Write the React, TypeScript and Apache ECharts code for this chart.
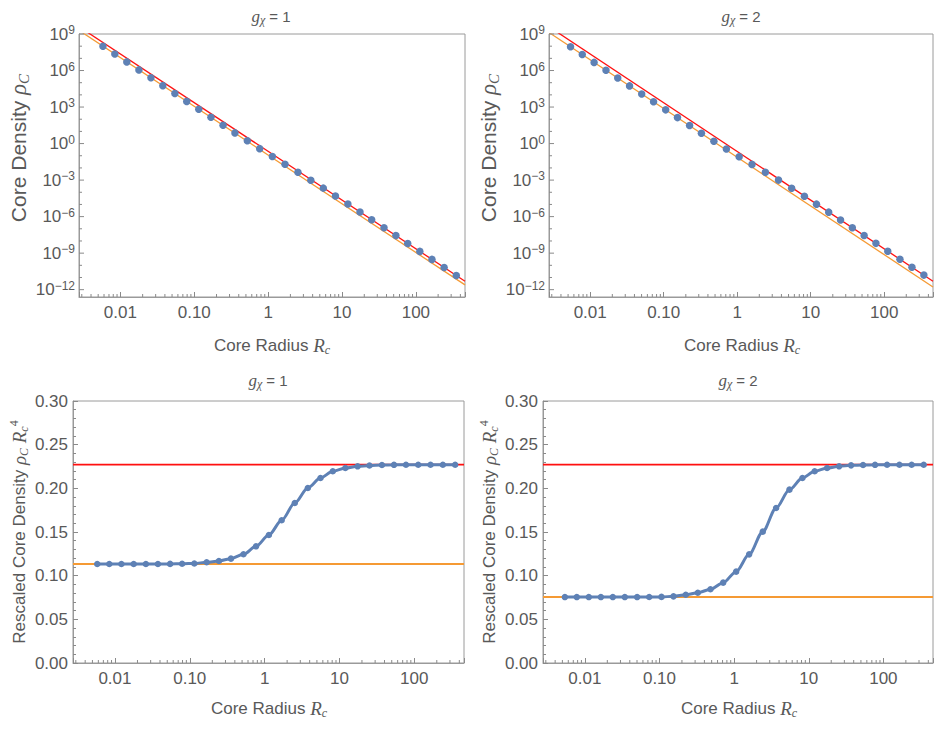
import React, { useEffect, useRef } from 'react';
import * as echarts from 'echarts';

// ---------- data ----------
// g_chi = 1
const RADIUS_G1 = [0.0058, 0.0084, 0.0122, 0.0178, 0.0259, 0.0375, 0.0546, 0.079, 0.115, 0.168, 0.245, 0.355, 0.522, 0.768, 1.14, 1.69, 2.53, 3.78, 5.58, 8.15, 12.0, 17.5, 25.2, 37.0, 53.6, 77.5, 113, 165, 241, 352];
const RESCALED_G1 = [0.1134, 0.1134, 0.1134, 0.1134, 0.1134, 0.1134, 0.1135, 0.1136, 0.114, 0.1153, 0.1168, 0.1195, 0.1245, 0.1336, 0.1466, 0.1634, 0.1832, 0.2004, 0.2118, 0.2195, 0.2233, 0.2252, 0.2262, 0.2267, 0.2269, 0.227, 0.227, 0.227, 0.227, 0.227];
const DENSITY_G1 = [1.0e8, 2.28e7, 5.12e6, 1.13e6, 2.52e5, 5.73e4, 1.276e4, 2.91e3, 652, 145, 32.4, 7.53, 1.68, 0.384, 0.0868, 0.02, 4.47e-3, 9.81e-4, 2.19e-4, 4.98e-5, 1.08e-5, 2.4e-6, 5.61e-7, 1.21e-7, 2.75e-8, 6.29e-9, 1.39e-9, 3.06e-10, 6.73e-11, 1.48e-11];

// g_chi = 2
const RADIUS_G2 = [0.0054, 0.0078, 0.0113, 0.0164, 0.0237, 0.0343, 0.0502, 0.0728, 0.1064, 0.154, 0.225, 0.326, 0.482, 0.713, 1.064, 1.59, 2.42, 3.65, 5.51, 8.22, 12.0, 17.6, 25.5, 36.9, 53.4, 77.3, 112, 164, 239, 347];
const RESCALED_G2 = [0.0755, 0.0755, 0.0755, 0.0755, 0.0755, 0.0755, 0.0755, 0.0756, 0.0757, 0.0763, 0.0782, 0.0805, 0.0844, 0.092, 0.1046, 0.1244, 0.1504, 0.1775, 0.1985, 0.2118, 0.2195, 0.2233, 0.2252, 0.2263, 0.2267, 0.2269, 0.227, 0.227, 0.227, 0.227];
const DENSITY_G2 = [8.89e7, 2.04e7, 4.64e6, 1.045e6, 2.4e5, 5.46e4, 1.19e4, 2.69e3, 590, 136, 30.5, 7.13, 1.56, 0.356, 0.0816, 0.0195, 4.39e-3, 1.0e-3, 2.15e-4, 4.64e-5, 1.06e-5, 2.33e-6, 5.33e-7, 1.22e-7, 2.79e-8, 6.36e-9, 1.44e-9, 3.14e-10, 6.96e-11, 1.57e-11];

// limiting levels (rescaled density)
const LEVEL_HIGH = 0.2271;
const LEVEL_LOW_G1 = 0.1135;
const LEVEL_LOW_G2 = 0.0757;

// axis ranges
const X_MIN = 0.00275;
const X_MAX = 462;
const TOP_Y_MIN = 2.5e-13;
const TOP_Y_MAX = 1e9;

// limiting lines in the log-log panels (end points at the x range ends)
const RED_TOP_LINE = [[0.00275, 3.97e9], [462, 4.99e-12]];
const ORANGE_TOP_LINE_G1 = [[0.00275, 1.99e9], [462, 2.49e-12]];
const ORANGE_TOP_LINE_G2 = [[0.00275, 1.32e9], [462, 1.66e-12]];

// ticks
const X_TICK_VALUES = [0.01, 0.1, 1, 10, 100];
const X_TICK_LABELS = ['0.01', '0.10', '1', '10', '100'];
const X_MINOR_TICKS = [0.003, 0.004, 0.005, 0.006, 0.007, 0.008, 0.009, 0.02, 0.03, 0.04, 0.05, 0.06, 0.07, 0.08, 0.09, 0.2, 0.3, 0.4, 0.5, 0.6, 0.7, 0.8, 0.9, 2, 3, 4, 5, 6, 7, 8, 9, 20, 30, 40, 50, 60, 70, 80, 90, 200, 300, 400];
const TOP_Y_MAJOR = [1e9, 1e6, 1e3, 1, 1e-3, 1e-6, 1e-9, 1e-12];
const TOP_Y_MINOR = [1e8, 1e7, 1e5, 1e4, 1e2, 1e1, 1e-1, 1e-2, 1e-4, 1e-5, 1e-7, 1e-8, 1e-10, 1e-11];

// ---------- styles ----------
const BLUE = '#5E81B5';
const RED = '#FF1010';
const ORANGE = '#F59A34';
const FRAME = '#9a9a9a';
const TICK = '#8a8a8a';
const TXT = '#595959';
const FONT = "'Liberation Sans', Arial, Helvetica, sans-serif";
const MATH = "'Liberation Serif', 'Times New Roman', serif";

const GRIDS = [
  { left: 79, top: 34, width: 386, height: 263 },
  { left: 549, top: 34, width: 384, height: 263 },
  { left: 73, top: 401, width: 391, height: 262 },
  { left: 543, top: 401, width: 390, height: 262 },
];

const tok = (o: any) => ({ ...o, fill: o.color });
const RICH = {
  t: tok({ fontFamily: FONT, fontSize: 17, color: TXT, lineHeight: 22 }),
  m: tok({ fontFamily: MATH, fontStyle: 'italic', fontSize: 19, color: TXT, lineHeight: 22 }),
  sub: tok({ fontFamily: MATH, fontStyle: 'italic', fontSize: 12, color: TXT, lineHeight: 12, verticalAlign: 'bottom' }),
  sup: tok({ fontFamily: MATH, fontStyle: 'normal', fontSize: 12, color: TXT, lineHeight: 12, verticalAlign: 'top' }),
  T: tok({ fontFamily: FONT, fontSize: 21, color: TXT, lineHeight: 26 }),
  M: tok({ fontFamily: MATH, fontStyle: 'italic', fontSize: 23, color: TXT, lineHeight: 26 }),
  SUB: tok({ fontFamily: MATH, fontStyle: 'italic', fontSize: 15, color: TXT, lineHeight: 15, verticalAlign: 'bottom' }),
  tt: tok({ fontFamily: FONT, fontSize: 15, color: TXT, lineHeight: 20 }),
  tm: tok({ fontFamily: MATH, fontStyle: 'italic', fontSize: 17, color: TXT, lineHeight: 20 }),
  tsub: tok({ fontFamily: MATH, fontStyle: 'italic', fontSize: 12, color: TXT, lineHeight: 12, verticalAlign: 'bottom' }),
};
const LABEL_RICH = {
  b: tok({ fontFamily: FONT, fontSize: 17, color: TXT, lineHeight: 20 }),
  s: tok({ fontFamily: FONT, fontSize: 12, color: TXT, lineHeight: 12, verticalAlign: 'top' }),
};

function xLabel(v: number) {
  for (let i = 0; i < X_TICK_VALUES.length; i++) {
    if (Math.abs(Math.log10(v) - Math.log10(X_TICK_VALUES[i])) < 1e-6) return X_TICK_LABELS[i];
  }
  return '';
}

function xMinorRender(params: any, api: any) {
  const cs = params.coordSys;
  const x = api.coord([api.value(0), api.value(1)])[0];
  const yb = cs.y + cs.height;
  return {
    type: 'line',
    shape: { x1: x, y1: yb, x2: x, y2: yb - 3 },
    style: { stroke: TICK, lineWidth: 1 },
  };
}

function yTickRender(major: boolean) {
  return (params: any, api: any) => {
    const cs = params.coordSys;
    const v = api.value(1);
    const y = api.coord([api.value(0), v])[1];
    const len = major ? 5 : 3;
    const children: any[] = [
      { type: 'line', shape: { x1: cs.x, y1: y, x2: cs.x + len, y2: y }, style: { stroke: TICK, lineWidth: 1 } },
    ];
    if (major) {
      const e = Math.round(Math.log10(v));
      const es = e < 0 ? '\u2212' + -e : String(e);
      children.push({
        type: 'text',
        x: cs.x - 4,
        y,
        style: { text: `{b|10}{s|${es}}`, rich: LABEL_RICH, align: 'right', verticalAlign: 'middle', fill: TXT },
      });
    }
    return { type: 'group', children };
  };
}

function buildOption() {
  const xAxis = GRIDS.map((_, i) => ({
    type: 'log',
    logBase: 10,
    gridIndex: i,
    min: X_MIN,
    max: X_MAX,
    axisLine: { show: true, lineStyle: { color: FRAME, width: 1 } },
    axisTick: { show: true, inside: true, length: 5, lineStyle: { color: TICK } },
    minorTick: { show: false },
    splitLine: { show: false },
    axisLabel: { interval: 0, margin: 7, color: TXT, fontSize: 17, fontFamily: FONT, formatter: xLabel },
  }));

  const yAxis: any[] = [0, 1].map((i) => ({
    type: 'log',
    logBase: 10,
    gridIndex: i,
    min: TOP_Y_MIN,
    max: TOP_Y_MAX,
    axisLine: { show: true, lineStyle: { color: FRAME, width: 1 } },
    axisTick: { show: false },
    axisLabel: { show: false },
    splitLine: { show: false },
  }));
  [2, 3].forEach((i) =>
    yAxis.push({
      type: 'value',
      gridIndex: i,
      min: 0,
      max: 0.3,
      interval: 0.05,
      axisLine: { show: true, lineStyle: { color: FRAME, width: 1 } },
      axisTick: { show: true, inside: true, length: 5, lineStyle: { color: TICK } },
      minorTick: { show: true, splitNumber: 5, length: 3, lineStyle: { color: TICK } },
      splitLine: { show: false },
      axisLabel: { margin: 5, color: TXT, fontSize: 17, fontFamily: FONT, formatter: (v: number) => v.toFixed(2) },
    })
  );

  const series: any[] = [];
  const topSets = [
    { r: RADIUS_G1, d: DENSITY_G1, orange: ORANGE_TOP_LINE_G1 },
    { r: RADIUS_G2, d: DENSITY_G2, orange: ORANGE_TOP_LINE_G2 },
  ];
  topSets.forEach((s, i) => {
    series.push({
      type: 'line', xAxisIndex: i, yAxisIndex: i, data: RED_TOP_LINE, symbol: 'none', clip: true,
      lineStyle: { color: RED, width: 1.3 }, z: 2,
    });
    series.push({
      type: 'line', xAxisIndex: i, yAxisIndex: i, data: s.orange, symbol: 'none', clip: true,
      lineStyle: { color: ORANGE, width: 1.3 }, z: 2,
    });
    series.push({
      type: 'scatter', xAxisIndex: i, yAxisIndex: i, data: s.r.map((r, k) => [r, s.d[k]]),
      symbolSize: 7.5, itemStyle: { color: BLUE, opacity: 1 }, z: 3,
    });
    series.push({
      type: 'custom', xAxisIndex: i, yAxisIndex: i, renderItem: yTickRender(true), clip: false, silent: true,
      data: TOP_Y_MAJOR.map((v) => [1, v]), z: 5,
    });
    series.push({
      type: 'custom', xAxisIndex: i, yAxisIndex: i, renderItem: yTickRender(false), clip: false, silent: true,
      data: TOP_Y_MINOR.map((v) => [1, v]), z: 5,
    });
    series.push({
      type: 'custom', xAxisIndex: i, yAxisIndex: i, renderItem: xMinorRender, clip: false, silent: true,
      data: X_MINOR_TICKS.map((v) => [v, 1]), z: 5,
    });
  });

  const botSets = [
    { r: RADIUS_G1, s: RESCALED_G1, low: LEVEL_LOW_G1 },
    { r: RADIUS_G2, s: RESCALED_G2, low: LEVEL_LOW_G2 },
  ];
  botSets.forEach((b, j) => {
    const i = j + 2;
    series.push({
      type: 'line', xAxisIndex: i, yAxisIndex: i, data: [[X_MIN, LEVEL_HIGH], [X_MAX, LEVEL_HIGH]], symbol: 'none',
      lineStyle: { color: RED, width: 1.6 }, z: 2,
    });
    series.push({
      type: 'line', xAxisIndex: i, yAxisIndex: i, data: [[X_MIN, b.low], [X_MAX, b.low]], symbol: 'none',
      lineStyle: { color: ORANGE, width: 2 }, z: 2,
    });
    const pts = b.r.map((r, k) => [r, b.s[k]]);
    series.push({
      type: 'line', xAxisIndex: i, yAxisIndex: i, data: pts, symbol: 'none', smooth: 0.3, smoothMonotone: 'x',
      lineStyle: { color: BLUE, width: 3 }, z: 3,
    });
    series.push({
      type: 'scatter', xAxisIndex: i, yAxisIndex: i, data: pts, symbolSize: 6.5,
      itemStyle: { color: BLUE, opacity: 1 }, z: 4,
    });
    series.push({
      type: 'custom', xAxisIndex: i, yAxisIndex: i, renderItem: xMinorRender, clip: false, silent: true,
      data: X_MINOR_TICKS.map((v) => [v, 0.1]), z: 5,
    });
  });

  const textEl = (x: number, y: number, text: string, rot = 0) => ({
    type: 'text',
    x,
    y,
    rotation: rot,
    silent: true,
    style: { text, rich: RICH, align: 'center', verticalAlign: 'middle', fill: TXT },
  });

  const title = (g: string) => `{tm|g}{tsub|\u03C7}{tt| = ${g}}`;
  const xTitle = '{t|Core Radius }{m|R}{sub|c}';
  const yTitleTop = '{T|Core Density }{M|\u03C1}{SUB|C}';
  const yTitleBot = '{t|Rescaled Core Density }{m|\u03C1}{sub|C}{t| }{m|R}{sub|c}{sup|4}';

  const graphic = [
    textEl(271, 16, title('1')),
    textEl(741, 16, title('2')),
    textEl(268, 380, title('1')),
    textEl(738, 380, title('2')),
    textEl(272, 345, xTitle),
    textEl(742, 345, xTitle),
    textEl(269, 708, xTitle),
    textEl(739, 708, xTitle),
    textEl(18, 148, yTitleTop, Math.PI / 2),
    textEl(488, 148, yTitleTop, Math.PI / 2),
    textEl(19, 532, yTitleBot, Math.PI / 2),
    textEl(489, 532, yTitleBot, Math.PI / 2),
  ];

  return {
    animation: false,
    backgroundColor: '#ffffff',
    grid: GRIDS.map((g) => ({ ...g, show: true, borderColor: FRAME, borderWidth: 1, backgroundColor: 'transparent' })),
    xAxis,
    yAxis,
    series,
    graphic,
  };
}

export default function App() {
  const ref = useRef<HTMLDivElement>(null);
  useEffect(() => {
    if (!ref.current) return;
    const chart = echarts.init(ref.current, undefined, { renderer: 'svg' });
    chart.setOption(buildOption() as any);
    return () => chart.dispose();
  }, []);
  return <div ref={ref} style={{ position: 'absolute', left: 0, top: 0, width: 940, height: 743, background: '#fff' }} />;
}
